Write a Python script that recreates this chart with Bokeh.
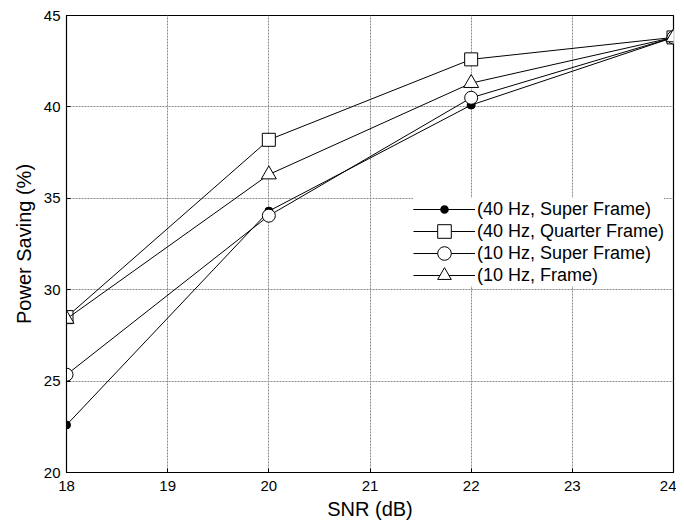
from bokeh.plotting import figure
from bokeh.models import Range1d, FixedTicker, Legend, LegendItem
from bokeh.embed import file_html
from bokeh.resources import INLINE

snr = [18, 20, 22, 24]
s40_super = [22.6, 34.3, 40.1, 43.8]
s40_quarter = [28.5, 38.2, 42.6, 43.8]
s10_super = [25.35, 34.05, 40.5, 43.8]
s10_frame = [28.4, 36.3, 41.3, 43.8]

labels = ["(40 Hz, Super Frame)", "(40 Hz, Quarter Frame)",
          "(10 Hz, Super Frame)", "(10 Hz, Frame)"]
x_ticks = [18, 19, 20, 21, 22, 23, 24]
y_ticks = [20, 25, 30, 35, 40, 45]

FONT = "Liberation Sans"

p = figure(width=676, height=522, output_backend="svg", toolbar_location=None,
           x_range=Range1d(18, 24), y_range=Range1d(20, 45),
           min_border_left=66, min_border_right=3, min_border_top=15, min_border_bottom=49,
           x_axis_label="SNR (dB)", y_axis_label="Power Saving (%)")

p.outline_line_color = "black"
p.outline_line_width = 1.2
p.outline_line_alpha = 1

for ax in (p.xaxis[0], p.yaxis[0]):
    ax.axis_line_color = "black"
    ax.major_tick_in = 4
    ax.major_tick_out = 0
    ax.minor_tick_line_color = None
    ax.major_label_text_font = FONT
    ax.major_label_text_font_size = "15px"
    ax.major_label_text_color = "black"
    ax.axis_label_text_font = FONT
    ax.axis_label_text_font_size = "20px"
    ax.axis_label_text_font_style = "normal"
    ax.axis_label_text_color = "black"

p.xaxis.ticker = FixedTicker(ticks=x_ticks)
p.yaxis.ticker = FixedTicker(ticks=y_ticks)
p.xaxis.major_label_standoff = 8
p.yaxis.major_label_standoff = 6
p.xaxis.axis_label_standoff = 4
p.yaxis.axis_label_standoff = 6

p.grid.grid_line_color = "#8a8a8a"
p.grid.grid_line_dash = "2 1"
p.grid.grid_line_width = 1

series = [s40_super, s40_quarter, s10_super, s10_frame]
markers = ["circle", "square", "circle", "triangle"]
sizes = [8, 13, 13, 15]
fills = ["black", "white", "white", "white"]

main_items = []
marker_items = []
for i, (ys, mk, sz, fc, lab) in enumerate(zip(series, markers, sizes, fills, labels)):
    ln = p.line(snr, ys, line_color="black", line_width=1)
    p.scatter(snr, ys, marker=mk, size=sz, line_color="black", fill_color=fc, line_width=1)
    main_items.append(LegendItem(label=lab, renderers=[ln]))
    # legend-only marker renderer (hidden on the plot)
    if i == 0:
        lm = p.scatter(snr, ys, marker="circle", size=sz, fill_color="black",
                       line_color="white", line_width=5.0, visible=False)
        rends = [lm, ln]
    else:
        lm = p.scatter(snr, ys, marker=mk, size=sz, fill_color="white",
                       line_color="black", line_width=1, visible=False)
        rends = [lm]
    marker_items.append(LegendItem(label=" ", renderers=rends))


def style(lg, gh, pad, bg_alpha):
    lg.background_fill_color = "white"
    lg.background_fill_alpha = bg_alpha
    lg.inactive_fill_alpha = 0
    lg.border_line_color = None
    lg.padding = pad
    lg.spacing = 0
    lg.margin = 0
    lg.label_height = gh
    lg.glyph_height = gh
    lg.glyph_width = 62
    lg.label_standoff = 2
    lg.label_text_font = FONT
    lg.label_text_font_size = "18px"
    lg.label_text_color = "black"


LX = 347
main = Legend(items=main_items, location=(LX, 186))
style(main, 22, 6, 1)
p.add_layout(main, "center")

row_y = [246, 224, 202, 180]
for it, ly in zip(marker_items, row_y):
    ov = Legend(items=[it], location=(LX, ly))
    style(ov, 34, 0, 0)
    p.add_layout(ov, "center")

open("out.html", "w").write(file_html(p, INLINE))
